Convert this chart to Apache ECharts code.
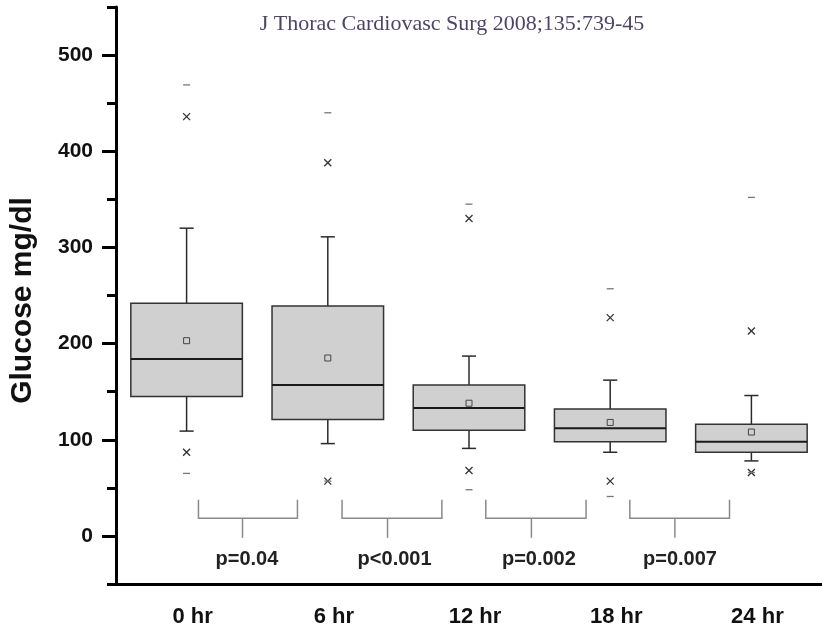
<!DOCTYPE html>
<html>
<head>
<meta charset="utf-8">
<script src="https://cdn.jsdelivr.net/npm/echarts@6/dist/echarts.min.js"></script>
<style>
html, body { margin: 0; padding: 0; background: #fff; }
#main { width: 822px; height: 631px; }
</style>
</head>
<body>
<div id="main"></div>
<script>
var chart = echarts.init(document.getElementById('main'));

// glucose at each time point (mg/dl)
var categories = ['0 hr', '6 hr', '12 hr', '18 hr', '24 hr'];
var q1         = [145, 121, 110, 98, 87];
var median     = [184, 157, 133, 112, 98];
var q3         = [242, 239, 157, 132, 116];
var whiskerLow = [109, 96, 91, 87, 78];
var whiskerHigh= [320, 311, 187, 162, 146];
var mean       = [203, 185, 138, 118, 108];
var pct1       = [87, 57, 68, 57, 66];     // x marks
var pct99      = [436, 388, 330, 227, 213];
var minVal     = [65, 57, 48, 41, 66];     // dashes
var maxVal     = [469, 440, 345, 257, 352];

// p-value brackets between neighbouring times
var pLabels      = ['p=0.04', 'p<0.001', 'p=0.002', 'p=0.007'];
var bracketLeft  = [0.084, 1.101, 2.119, 3.139];
var bracketRight = [0.785, 1.808, 2.829, 3.845];
var bracketStem  = [0.396, 1.423, 2.442, 3.458];
var labelX       = [0.427, 1.473, 2.495, 3.494];
var bracketTop = 37.5, bracketBase = 18.5, stemEnd = -2, labelY = -25;

var boxData = categories.map(function (c, i) {
    return [i, q1[i], median[i], q3[i], whiskerLow[i], whiskerHigh[i],
            mean[i], pct1[i], pct99[i], minVal[i], maxVal[i]];
});

function renderBox(params, api) {
    var i = api.value(0);
    var cx = api.coord([i, 0])[0];
    var bw = api.size([1, 0])[0];
    var half = bw * 0.395;
    var cap = bw * 0.05;
    function y(v) { return api.coord([i, v])[1]; }
    var dark = '#2b2b2b';
    var els = [];
    // whiskers
    els.push({ type: 'line', shape: { x1: cx, y1: y(api.value(3)), x2: cx, y2: y(api.value(5)) }, style: { stroke: dark, lineWidth: 1.5 } });
    els.push({ type: 'line', shape: { x1: cx - cap, y1: y(api.value(5)), x2: cx + cap, y2: y(api.value(5)) }, style: { stroke: dark, lineWidth: 1.5 } });
    els.push({ type: 'line', shape: { x1: cx, y1: y(api.value(1)), x2: cx, y2: y(api.value(4)) }, style: { stroke: dark, lineWidth: 1.5 } });
    els.push({ type: 'line', shape: { x1: cx - cap, y1: y(api.value(4)), x2: cx + cap, y2: y(api.value(4)) }, style: { stroke: dark, lineWidth: 1.5 } });
    // box
    var top = y(api.value(3)), bot = y(api.value(1));
    els.push({ type: 'rect', shape: { x: cx - half, y: top, width: half * 2, height: bot - top }, style: { fill: '#d0d0d0', stroke: '#333', lineWidth: 1.5 } });
    // median
    els.push({ type: 'line', shape: { x1: cx - half, y1: y(api.value(2)), x2: cx + half, y2: y(api.value(2)) }, style: { stroke: '#1a1a1a', lineWidth: 2 } });
    // mean square
    var my = y(api.value(6));
    els.push({ type: 'rect', shape: { x: cx - 3, y: my - 3, width: 6, height: 6 }, style: { fill: 'none', stroke: '#444', lineWidth: 1 } });
    // 1% / 99% crosses
    [7, 8].forEach(function (k) {
        var py = y(api.value(k));
        els.push({ type: 'line', shape: { x1: cx - 3.5, y1: py - 3.5, x2: cx + 3.5, y2: py + 3.5 }, style: { stroke: '#333', lineWidth: 1.3 } });
        els.push({ type: 'line', shape: { x1: cx - 3.5, y1: py + 3.5, x2: cx + 3.5, y2: py - 3.5 }, style: { stroke: '#333', lineWidth: 1.3 } });
    });
    // min / max dashes
    [9, 10].forEach(function (k) {
        var py = y(api.value(k));
        els.push({ type: 'line', shape: { x1: cx - 3.5, y1: py, x2: cx + 3.5, y2: py }, style: { stroke: '#777', lineWidth: 1.3 } });
    });
    return { type: 'group', children: els };
}

var bracketData = pLabels.map(function (t, i) {
    return [bracketLeft[i], bracketRight[i], bracketStem[i], labelX[i]];
});

function renderBracket(params, api) {
    var l = api.coord([api.value(0), bracketTop]);
    var lb = api.coord([api.value(0), bracketBase]);
    var rb = api.coord([api.value(1), bracketBase]);
    var r = api.coord([api.value(1), bracketTop]);
    var s1 = api.coord([api.value(2), bracketBase]);
    var s2 = api.coord([api.value(2), stemEnd]);
    var t = api.coord([api.value(3), labelY]);
    var st = { stroke: '#8a8a8a', lineWidth: 1.5, fill: 'none' };
    return {
        type: 'group',
        children: [
            { type: 'polyline', shape: { points: [l, lb, rb, r] }, style: st },
            { type: 'line', shape: { x1: s1[0], y1: s1[1], x2: s2[0], y2: s2[1] }, style: st },
            { type: 'text', x: t[0], y: t[1], style: {
                text: pLabels[params.dataIndex], fill: '#222',
                font: 'bold 20px "Liberation Sans", Arial, sans-serif',
                align: 'center', verticalAlign: 'middle' } }
        ]
    };
}

var options = {
    animation: false,
    backgroundColor: '#fff',
    title: {
        text: 'J Thorac Cardiovasc Surg 2008;135:739-45',
        left: 447, top: 8, textAlign: 'center',
        textStyle: { fontFamily: '"Liberation Serif", "Times New Roman", serif', fontWeight: 'normal', fontSize: 22, color: '#4f4468' }
    },
    grid: { left: 114, right: -3, top: 7, bottom: 47 },
    xAxis: [{
        type: 'category',
        data: categories,
        boundaryGap: true,
        axisLine: { onZero: false, lineStyle: { color: '#000', width: 3 } },
        axisTick: { alignWithLabel: true, length: 14, lineStyle: { color: '#000', width: 3 } },
        axisLabel: { margin: 22, padding: [0, 0, 0, 12], color: '#111', fontSize: 22, fontWeight: 'bold', fontFamily: '"Liberation Sans", Arial, sans-serif' },
        splitLine: { show: false }
    }, {
        type: 'value', min: -0.5, max: 4.5, show: false
    }],
    yAxis: [{
        type: 'value',
        min: -50, max: 550,
        name: 'Glucose mg/dl',
        nameLocation: 'middle',
        nameGap: 78,
        nameTextStyle: { fontSize: 30, fontWeight: 'bold', color: '#111', fontFamily: '"Liberation Sans", Arial, sans-serif', padding: [0, 10, 0, 0] },
        axisLine: { show: true, onZero: false, lineStyle: { color: '#000', width: 3 } },
        axisTick: { show: true, length: 14, lineStyle: { color: '#000', width: 3 } },
        axisLabel: { showMinLabel: false, showMaxLabel: false, margin: 23, color: '#111', fontSize: 21, fontWeight: 'bold', fontFamily: '"Liberation Sans", Arial, sans-serif' },
        splitLine: { show: false }
    }, {
        // minor ticks at the 50s
        type: 'value', min: -50, max: 550, interval: 100, position: 'left',
        axisLine: { show: false, onZero: false },
        axisTick: { show: true, length: 9, lineStyle: { color: '#000', width: 3 } },
        axisLabel: { show: false },
        splitLine: { show: false }
    }],
    series: [{
        type: 'custom',
        xAxisIndex: 0, yAxisIndex: 0,
        renderItem: renderBox,
        data: boxData,
        z: 3
    }, {
        type: 'custom',
        xAxisIndex: 1, yAxisIndex: 0,
        renderItem: renderBracket,
        data: bracketData,
        z: 2
    }]
};
chart.setOption(options);
</script>
</body>
</html>
